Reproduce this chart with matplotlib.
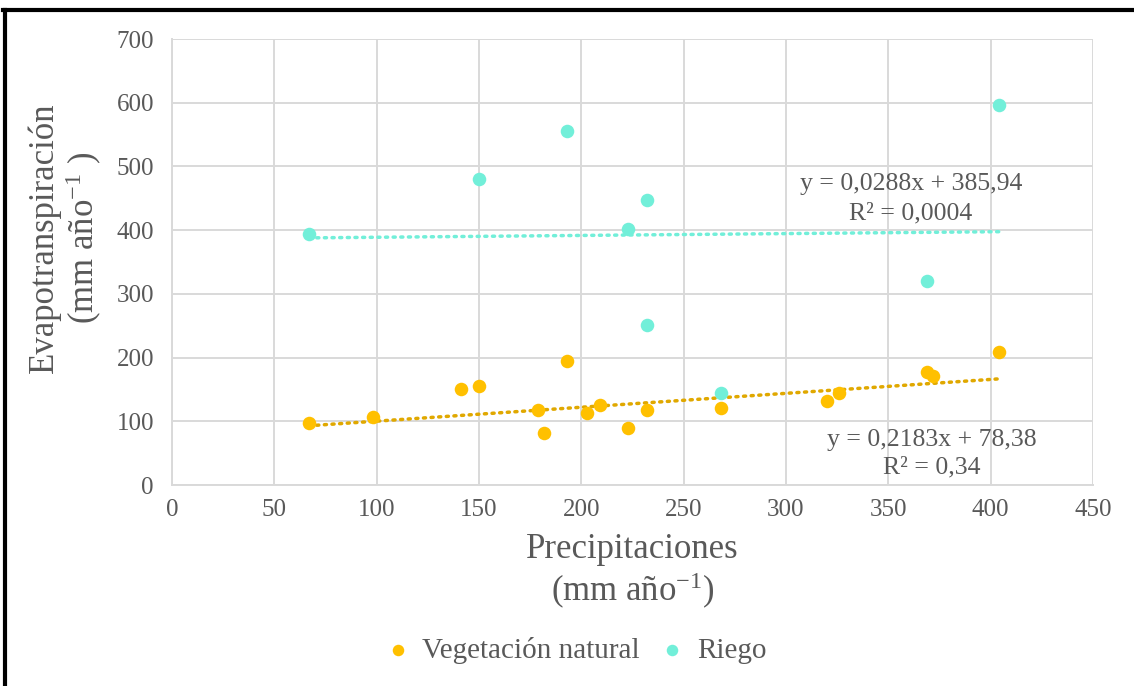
import numpy as np
import matplotlib
matplotlib.use("Agg")
import matplotlib.pyplot as plt
from matplotlib.lines import Line2D

# datos (precipitacion, evapotranspiracion)
veg_x = [67, 98, 141, 150, 193, 179, 182, 203, 209, 223, 232, 268, 320, 326, 369, 372, 404]
veg_y = [98, 106, 151, 155, 194, 118, 82, 113, 125, 90, 117, 121, 132, 144, 178, 171, 209]

riego_x = [67, 150, 193, 223, 232, 232, 268, 369, 404]
riego_y = [394, 481, 555, 402, 447, 251, 144, 320, 596]

# lineas de tendencia (pendiente, intercepto) segun las ecuaciones del grafico
veg_fit = (0.2183, 78.38)
riego_fit = (0.0288, 385.94)
veg_eq = ["y = 0,2183x + 78,38", "R² = 0,34"]
riego_eq = ["y = 0,0288x + 385,94", "R² = 0,0004"]

x_ticks = np.arange(0, 451, 50)
y_ticks = np.arange(0, 701, 100)

c_veg = "#FFC000"
c_riego = "#72EFD9"
gris = "#595959"

plt.rcParams['font.family'] = ['Liberation Serif', 'DejaVu Serif']
plt.rcParams['mathtext.fontset'] = 'custom'
plt.rcParams['mathtext.rm'] = 'Liberation Serif'
plt.rcParams['mathtext.it'] = 'Liberation Serif:italic'

fig = plt.figure(figsize=(11.34, 6.86), dpi=100)
ax = fig.add_axes([172 / 1134, 1 - 485 / 686, 921 / 1134, 446 / 686])

def tendencia(x, fit):
    xs = np.array([min(x), max(x)])
    return xs, fit[0] * xs + fit[1]

xs, ys = tendencia(veg_x, veg_fit)
ax.plot(xs, ys, color="#E0A800", lw=2.5, ls=(0, (0.6, 1.6)), dash_capstyle="round", zorder=3)
xs, ys = tendencia(riego_x, riego_fit)
ax.plot(xs, ys, color=c_riego, lw=2.5, ls=(0, (0.6, 1.6)), dash_capstyle="round", zorder=3)

ax.scatter(veg_x, veg_y, s=95, color=c_veg, label="Vegetación natural", zorder=4, linewidths=0)
ax.scatter(riego_x, riego_y, s=95, color=c_riego, label="Riego", zorder=4, linewidths=0)

ax.set_xlim(0, 450)
ax.set_ylim(0, 700)
ax.set_xticks(x_ticks)
ax.set_yticks(y_ticks)
ax.grid(True, color="#d9d9d9", lw=1.4, zorder=0)
ax.set_axisbelow(True)
for s in ["top", "right"]:
    ax.spines[s].set_visible(False)
for s in ["left", "bottom"]:
    ax.spines[s].set_color("#d9d9d9")
    ax.spines[s].set_linewidth(1.4)
ax.tick_params(length=0, labelsize=18, labelcolor=gris)
ax.tick_params(axis="y", pad=13)
ax.tick_params(axis="x", pad=10)

ax.set_xlabel("Precipitaciones\n(mm año$^{\\mathrm{-1}}$)", fontsize=25, color=gris, linespacing=1.15)
ax.xaxis.set_label_coords(0.5, -0.108)
ax.set_ylabel("Evapotranspiración\n(mm año$^{\\mathrm{-1}}$ )", fontsize=25, color=gris, linespacing=1.1)
ax.yaxis.set_label_coords(-0.074, 0.555)

ax.text(361, 473, riego_eq[0], fontsize=18.5, color=gris, ha="center", va="center")
ax.text(361, 426, riego_eq[1], fontsize=18.5, color=gris, ha="center", va="center")
ax.text(371, 70, veg_eq[0], fontsize=18.5, color=gris, ha="center", va="center")
ax.text(371, 28, veg_eq[1], fontsize=18.5, color=gris, ha="center", va="center")

leg = fig.legend(loc="center", bbox_to_anchor=(0.508, 0.052), ncol=2, frameon=False,
                 fontsize=21, handlelength=0.8, handletextpad=0.45, columnspacing=0.7,
                 markerscale=0.85)
for t in leg.get_texts():
    t.set_color(gris)

# marco negro solo arriba y a la izquierda
fig.lines.append(Line2D([5 / 1134, 5 / 1134], [0, 1 - 10 / 686], transform=fig.transFigure,
                        color="black", lw=3))
fig.lines.append(Line2D([3 / 1134, 1], [1 - 10 / 686, 1 - 10 / 686], transform=fig.transFigure,
                        color="black", lw=3))

fig.savefig("out.png", dpi=100)
